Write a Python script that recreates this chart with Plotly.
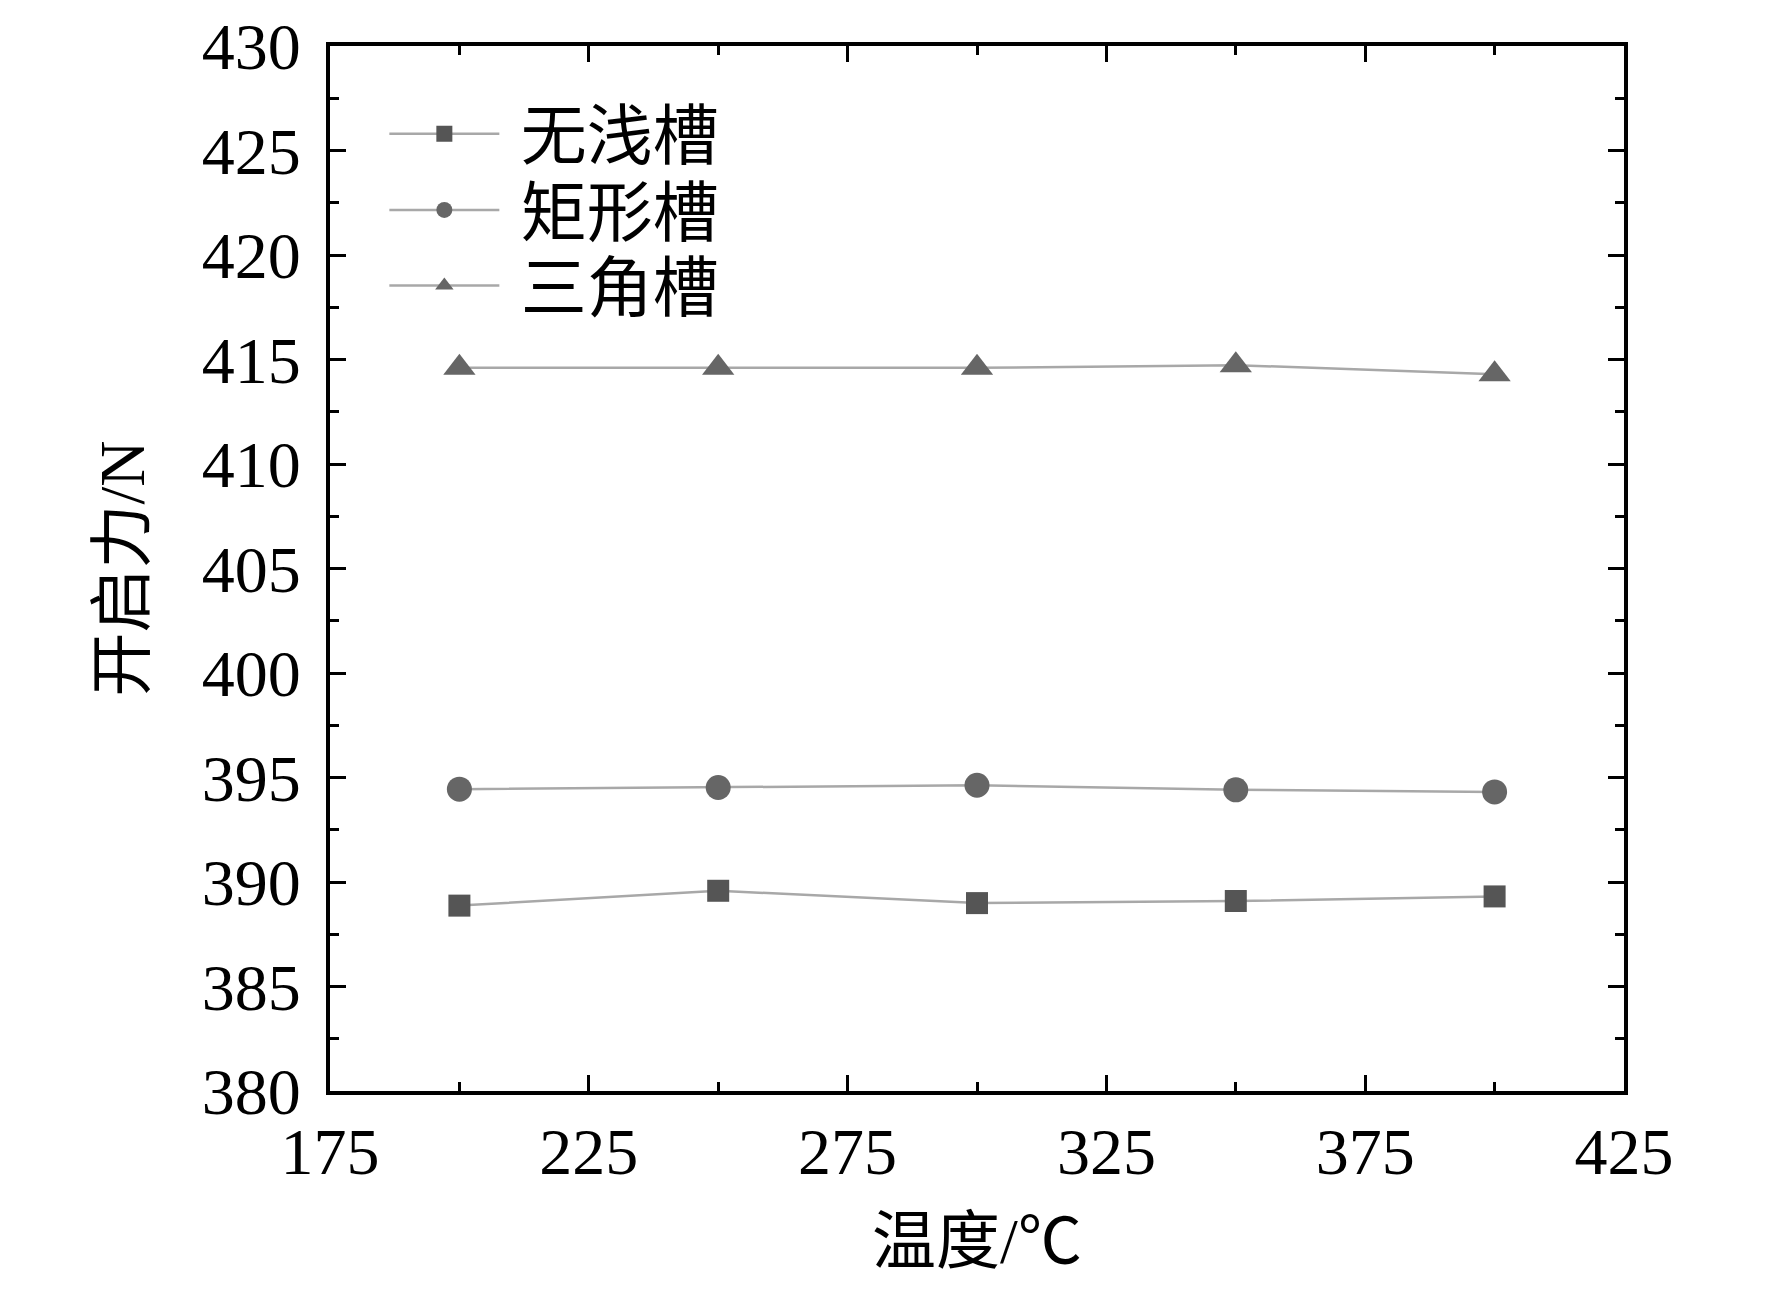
import plotly.graph_objects as go

# temperature (deg C) and opening force (N)
temperature = [200, 250, 300, 350, 400]
no_groove = [388.87, 389.58, 388.99, 389.09, 389.31]
rect_groove = [394.44, 394.52, 394.63, 394.41, 394.31]
tri_groove = [414.60, 414.60, 414.60, 414.73, 414.30]

series_names = ["无浅槽", "矩形槽", "三角槽"]

FONT = "Liberation Serif, Noto Sans CJK SC, serif"

fig = go.Figure()

# one small legend per series so the rows can sit where the reference has them
styles = [
    (no_groove, "square", 22, "#555555", "legend"),
    (rect_groove, "circle", 25, "#666666", "legend2"),
    (tri_groove, "triangle-up", 28, "#666666", "legend3"),
]
for name, (vals, symbol, size, color, leg) in zip(series_names, styles):
    fig.add_trace(go.Scatter(
        x=temperature,
        y=vals,
        name="\u00a0" + name,
        mode="lines+markers",
        line=dict(color="#a8a8a8", width=2.5),
        marker=dict(symbol=symbol, size=size, color=color),
        legend=leg,
    ))

axis_common = dict(
    showline=True,
    linecolor="black",
    linewidth=4,
    mirror="allticks",
    ticks="inside",
    ticklen=16,
    tickwidth=3,
    tickcolor="black",
    showgrid=False,
    zeroline=False,
    automargin=False,
    tickfont=dict(family=FONT, size=66, color="black"),
)

fig.update_xaxes(
    range=[175, 425],
    tick0=175,
    dtick=50,
    minor=dict(ticks="inside", ticklen=9, tickwidth=3, tickcolor="black", dtick=25, tick0=175),
    title=dict(text="温度/℃", font=dict(family=FONT, size=64, color="black"), standoff=32),
    **axis_common,
)
fig.update_yaxes(
    range=[380, 430],
    tick0=380,
    dtick=5,
    ticklabelstandoff=12,
    minor=dict(ticks="inside", ticklen=9, tickwidth=3, tickcolor="black", dtick=2.5, tick0=380),
    title=dict(text="开启力/N", font=dict(family=FONT, size=64, color="black"), standoff=37),
    **axis_common,
)

legend_style = dict(
    x=0.042,
    xanchor="left",
    yanchor="middle",
    bgcolor="rgba(0,0,0,0)",
    font=dict(family=FONT, size=66, color="black"),
    itemwidth=110,
    itemsizing="trace",
)

fig.update_layout(
    width=1772,
    height=1299,
    margin=dict(l=322, r=156, t=38, b=216),
    paper_bgcolor="white",
    plot_bgcolor="white",
    showlegend=True,
    legend=dict(y=0.916, **legend_style),
    legend2=dict(y=0.843, **legend_style),
    legend3=dict(y=0.7706, **legend_style),
)

fig.write_html("out.html")
